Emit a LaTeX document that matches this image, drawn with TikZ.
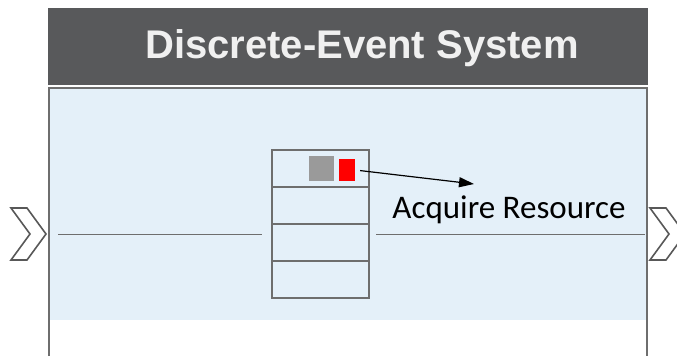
\documentclass[tikz,border=0pt]{standalone}
\usepackage{fontspec}
\setmainfont{Liberation Sans}
\newfontfamily\calfont{Carlito}
\usetikzlibrary{arrows.meta, positioning}
\definecolor{hdrgray}{RGB}{88, 89, 91}
\definecolor{bodyblue}{RGB}{228, 240, 249}
\definecolor{edgegray}{RGB}{110, 110, 110}
\definecolor{tokgray}{RGB}{154, 154, 154}

\tikzset{
  slot/.style={draw=edgegray, line width=2pt, minimum width=97pt, minimum height=37pt, inner sep=0pt, outer sep=0pt},
  wire/.style={draw=edgegray, line width=1pt},
  chev/.style={draw=edgegray!80!black, line width=1.6pt, fill=white, line join=miter}
}

\begin{document}
\begin{tikzpicture}[x=1pt, y=-1pt]
    \useasboundingbox (0,0) rectangle (677,356);

    % Kopfzeile mit Titel
    \node[fill=hdrgray, minimum width=600pt, minimum height=77pt, inner sep=0pt] (hdr) at (348,46.5) {};
    \node[text=white!94!black, font=\bfseries\fontsize{40}{40}\selectfont] (title) at (362,48) {Discrete-Event System};

    % Blauer Bereich und Rahmen
    \fill[bodyblue] (49,89) rectangle (647,320);
    \draw[edgegray, line width=1.6pt] (49,356) -- (49,88) -- (647,88) -- (647,356);

    % Ein- und Ausgangspfeile
    \draw[chev] (11,208) -- (27,208) -- (46,234) -- (27,260) -- (11,260) -- (30,234) -- cycle;
    \draw[chev] (650,208) -- (666,208) -- (685,234) -- (666,260) -- (650,260) -- (669,234) -- cycle;

    % Warteschlange (4 Plaetze)
    \node[slot] (q1) at (320.5,168.5) {};
    \node[slot, below=0pt of q1] (q2) {};
    \node[slot, below=0pt of q2] (q3) {};
    \node[slot, below=0pt of q3] (q4) {};

    % Marken im obersten Platz
    \node[fill=tokgray, minimum width=25pt, minimum height=25pt, inner sep=0pt] (tok) at (321.5,168.5) {};
    \node[fill=red, minimum width=16pt, minimum height=22pt, inner sep=0pt] (res) at (347,170) {};

    % Leitungen links und rechts
    \coordinate (inA) at (58,234);
    \coordinate (inB) at (262,234);
    \coordinate (outA) at (376,234);
    \coordinate (outB) at (645,234);
    \draw[wire] (inA) -- (inB);
    \draw[wire] (outA) -- (outB);

    % Beschriftung mit Pfeil
    \node[font=\calfont\fontsize{33}{33}\selectfont, anchor=base] (acq) at (509,218) {Acquire Resource};
    \coordinate (tip) at (474,184);
    \draw[line width=1.2pt, -{Triangle[length=15pt, width=10pt]}, shorten <=5pt] (res.east) -- (tip);
\end{tikzpicture}
\end{document}
